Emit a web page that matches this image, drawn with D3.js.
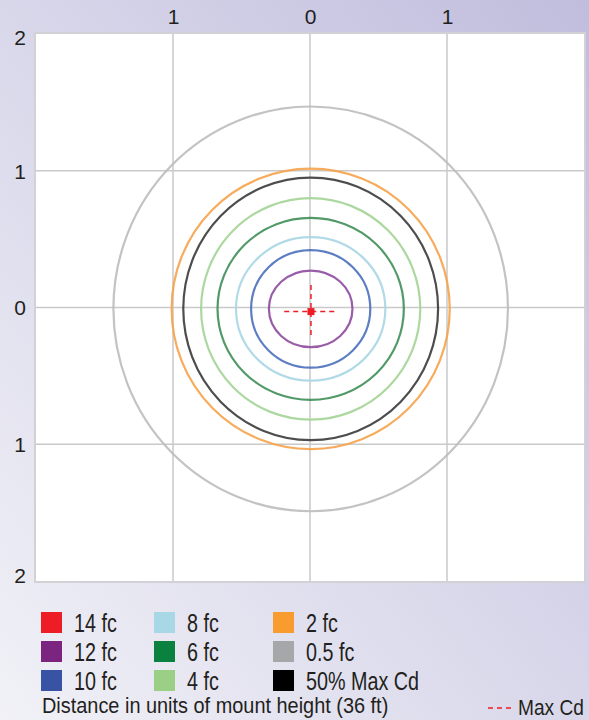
<!DOCTYPE html>
<html>
<head>
<meta charset="utf-8">
<script src="https://cdn.jsdelivr.net/npm/d3@7"></script>
<style>
  body { margin: 0; }
  text { font-family: "Liberation Sans", Arial, sans-serif; fill: #231f20; }
</style>
</head>
<body>
<svg id="chart"></svg>
<script>
// axis ticks (absolute distance, in units of mount height)
const xTicks = [-1, 0, 1];
const yTicks = [2, 1, 0, -1, -2];

// isolux contours, outermost first
const contourNames = ['0.5 fc', '2 fc', '50% Max Cd', '4 fc', '6 fc', '8 fc', '10 fc', '12 fc'];
const contourRx = [1.44, 1.015, 0.93, 0.80, 0.68, 0.545, 0.435, 0.305];
const contourRy = [1.48, 1.025, 0.96, 0.81, 0.665, 0.525, 0.43, 0.28];
const contourCenter = [0.005, -0.01];

// max candela point
const maxCd = [0.007, -0.03];
const maxCdArm = 0.195;

// legend entries, column by column
const legendNames = ['14 fc', '12 fc', '10 fc', '8 fc', '6 fc', '4 fc', '2 fc', '0.5 fc', '50% Max Cd'];
const legendColors = ['#ee1c25', '#7b2580', '#3853a4', '#a8d8e6', '#0b813f', '#9ccf86', '#f89c2f', '#a6a7a9', '#000000'];

const lineColors = {
  '0.5 fc': '#bcbcbc', '2 fc': '#f6a24a', '50% Max Cd': '#3a3a3a', '4 fc': '#a3d495',
  '6 fc': '#3e8f58', '8 fc': '#a9d6e4', '10 fc': '#4b70bd', '12 fc': '#8e4a9e'
};

const W = 589, H = 720;
const margin = {top: 34, right: 5, bottom: 139, left: 36};
const width = W - margin.left - margin.right;
const height = H - margin.top - margin.bottom;

const svg = d3.select('#chart').attr('width', W).attr('height', H);

// lavender background
const defs = svg.append('defs');
const grad = defs.append('linearGradient').attr('id', 'bg')
    .attr('x1', 1).attr('y1', 0).attr('x2', 0).attr('y2', 1);
grad.append('stop').attr('offset', 0).attr('stop-color', '#c0bddd');
grad.append('stop').attr('offset', 1).attr('stop-color', '#f1f1f7');
svg.append('rect').attr('width', W).attr('height', H).attr('fill', 'url(#bg)');

const chart = svg.append('g').attr('transform', `translate(${margin.left},${margin.top})`);

const x = d3.scaleLinear().domain([-2, 2]).range([0, width]);
const y = d3.scaleLinear().domain([2, -2]).range([0, height]);

chart.append('rect')
    .attr('x', -1).attr('y', -1)
    .attr('width', width + 2).attr('height', height + 2)
    .attr('fill', '#fff')
    .attr('stroke', '#d2d2d6').attr('stroke-width', 2);

// grid
chart.selectAll('.vgrid').data(xTicks).join('line')
    .attr('class', 'vgrid')
    .attr('x1', d => x(d)).attr('x2', d => x(d))
    .attr('y1', 0).attr('y2', height)
    .attr('stroke', '#c9c9c9').attr('stroke-width', 1.5);
chart.selectAll('.hgrid').data(yTicks.slice(1, -1)).join('line')
    .attr('class', 'hgrid')
    .attr('x1', 0).attr('x2', width)
    .attr('y1', d => y(d)).attr('y2', d => y(d))
    .attr('stroke', '#c9c9c9').attr('stroke-width', 1.5);

// axes
const fmt = d => Math.abs(d);
const xAxis = d3.axisTop(x).tickValues(xTicks).tickFormat(fmt).tickSize(0).tickPadding(10);
const yAxis = d3.axisLeft(y).tickValues(yTicks).tickFormat(fmt).tickSize(0).tickPadding(10);
const xAxisG = chart.append('g').call(xAxis);
const yAxisG = chart.append('g').call(yAxis);
[xAxisG, yAxisG].forEach(g => {
  g.select('.domain').remove();
  g.selectAll('text').attr('font-size', 21).attr('fill', '#231f20')
      .style('font-family', '"Liberation Sans", Arial, sans-serif');
});
yAxisG.selectAll('text').attr('dy', (d, i) => i === 0 ? '0.5em' : (i === yTicks.length - 1 ? '0.05em' : '0.35em'));

// contours
chart.selectAll('.contour').data(contourNames).join('ellipse')
    .attr('class', 'contour')
    .attr('cx', x(contourCenter[0]))
    .attr('cy', y(contourCenter[1]))
    .attr('rx', (d, i) => x(contourRx[i]) - x(0))
    .attr('ry', (d, i) => y(0) - y(contourRy[i]))
    .attr('fill', 'none')
    .attr('stroke', d => lineColors[d])
    .attr('stroke-width', 2.2)
    .attr('stroke-opacity', 0.9);

// max Cd cross and 14 fc point
const mx = x(maxCd[0]), my = y(maxCd[1]);
chart.append('line')
    .attr('x1', x(maxCd[0] - maxCdArm)).attr('x2', x(maxCd[0] + maxCdArm))
    .attr('y1', my).attr('y2', my)
    .attr('stroke', '#ee1c25').attr('stroke-width', 1.5).attr('stroke-dasharray', '5,4');
chart.append('line')
    .attr('x1', mx).attr('x2', mx)
    .attr('y1', y(maxCd[1] + maxCdArm)).attr('y2', y(maxCd[1] - maxCdArm))
    .attr('stroke', '#ee1c25').attr('stroke-width', 1.5).attr('stroke-dasharray', '5,4');
chart.append('rect')
    .attr('x', mx - 3.5).attr('y', my - 3.5)
    .attr('width', 7).attr('height', 7)
    .attr('fill', '#ee1c25');

// condensed text helper
function condText(g, tx, ty, str, size, sx) {
  return g.append('text')
      .attr('transform', `translate(${tx},${ty}) scale(${sx},1)`)
      .attr('font-size', size)
      .text(str);
}

// legend
const legend = svg.append('g');
const colX = [41, 154, 273];
const rowY = [612, 641, 670];
legendNames.forEach((name, i) => {
  const c = Math.floor(i / 3), r = i % 3;
  legend.append('rect')
      .attr('x', colX[c]).attr('y', rowY[r])
      .attr('width', 21).attr('height', 21)
      .attr('fill', legendColors[i]);
  condText(legend, colX[c] + 33, rowY[r] + 20, name, 25, 0.79);
});

condText(svg, 42, 713, 'Distance in units of mount height (36 ft)', 22.5, 0.885);
svg.append('line')
    .attr('x1', 488).attr('x2', 512).attr('y1', 708).attr('y2', 708)
    .attr('stroke', '#ee1c25').attr('stroke-width', 1.5).attr('stroke-dasharray', '5,4');
condText(svg, 518, 715, 'Max Cd', 22.5, 0.85);
</script>
</body>
</html>
